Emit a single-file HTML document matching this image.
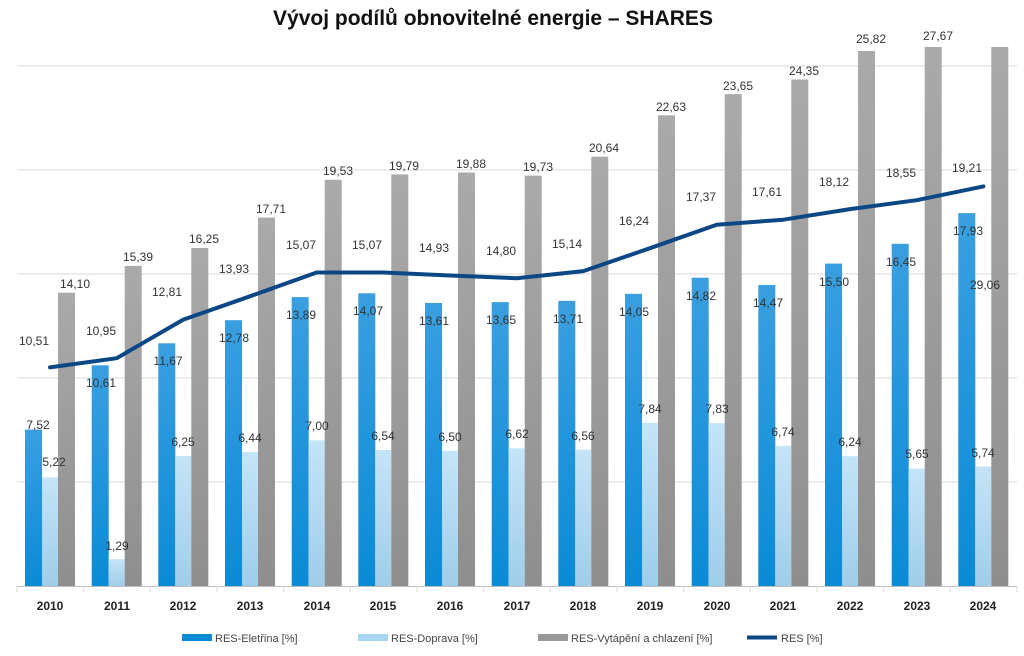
<!DOCTYPE html>
<html><head><meta charset="utf-8"><style>
body{margin:0;background:#fff}
svg{display:block;font-family:"Liberation Sans",sans-serif}
.l{font-size:12px;fill:#333;text-anchor:middle}
.y{font-size:12px;font-weight:bold;fill:#222;text-anchor:middle}
.g{font-size:11px;fill:#444}
</style></head><body>
<svg width="1024" height="656" viewBox="0 0 1024 656">
<defs>
<linearGradient id="b" x1="0" y1="0" x2="0" y2="1"><stop offset="0" stop-color="#3a9fe0"/><stop offset="1" stop-color="#0a8bd6"/></linearGradient>
<linearGradient id="lb" x1="0" y1="0" x2="0" y2="1"><stop offset="0" stop-color="#c4e4f8"/><stop offset="1" stop-color="#9fcdea"/></linearGradient>
<linearGradient id="gr" x1="0" y1="0" x2="0" y2="1"><stop offset="0" stop-color="#aaaaaa"/><stop offset="1" stop-color="#8e8e8e"/></linearGradient>
</defs>
<text x="493" y="25" style="font-size:21px;font-weight:bold;fill:#111" text-anchor="middle">Vývoj podílů obnovitelné energie – SHARES</text>
<g stroke="#d9d9d9" stroke-width="1">
<line x1="17" x2="1017" y1="66" y2="66"/><line x1="17" x2="1017" y1="170" y2="170"/><line x1="17" x2="1017" y1="274" y2="274"/><line x1="17" x2="1017" y1="378" y2="378"/><line x1="17" x2="1017" y1="482" y2="482"/>
<line x1="17" x2="1017" y1="586.5" y2="586.5" stroke="#bfbfbf"/>
<line x1="17" x2="17" y1="586" y2="592"/><line x1="83.7" x2="83.7" y1="586" y2="592"/><line x1="150.3" x2="150.3" y1="586" y2="592"/><line x1="217" x2="217" y1="586" y2="592"/><line x1="283.7" x2="283.7" y1="586" y2="592"/><line x1="350.3" x2="350.3" y1="586" y2="592"/><line x1="417" x2="417" y1="586" y2="592"/><line x1="483.7" x2="483.7" y1="586" y2="592"/><line x1="550.3" x2="550.3" y1="586" y2="592"/><line x1="617" x2="617" y1="586" y2="592"/><line x1="683.7" x2="683.7" y1="586" y2="592"/><line x1="750.3" x2="750.3" y1="586" y2="592"/><line x1="817" x2="817" y1="586" y2="592"/><line x1="883.7" x2="883.7" y1="586" y2="592"/><line x1="950.3" x2="950.3" y1="586" y2="592"/><line x1="1017" x2="1017" y1="586" y2="592"/>
</g>
<g fill="url(#b)">
<rect x="25" y="429.6" width="17" height="156.4"/><rect x="91.7" y="365.3" width="17" height="220.7"/><rect x="158.3" y="343.3" width="17" height="242.7"/><rect x="225" y="320.2" width="17" height="265.8"/><rect x="291.7" y="297.1" width="17" height="288.9"/><rect x="358.3" y="293.3" width="17" height="292.7"/><rect x="425" y="302.9" width="17" height="283.1"/><rect x="491.7" y="302.1" width="17" height="283.9"/><rect x="558.3" y="300.8" width="17" height="285.2"/><rect x="625" y="293.8" width="17" height="292.2"/><rect x="691.7" y="277.7" width="17" height="308.3"/><rect x="758.3" y="285" width="17" height="301"/><rect x="825" y="263.6" width="17" height="322.4"/><rect x="891.7" y="243.8" width="17" height="342.2"/><rect x="958.3" y="213.1" width="17" height="372.9"/>
</g>
<g fill="url(#lb)">
<rect x="42" y="477.4" width="16" height="108.6"/><rect x="108.7" y="559.2" width="16" height="26.8"/><rect x="175.3" y="456" width="16" height="130"/><rect x="242" y="452" width="16" height="134"/><rect x="308.7" y="440.4" width="16" height="145.6"/><rect x="375.3" y="450" width="16" height="136"/><rect x="442" y="450.8" width="16" height="135.2"/><rect x="508.7" y="448.3" width="16" height="137.7"/><rect x="575.3" y="449.6" width="16" height="136.4"/><rect x="642" y="422.9" width="16" height="163.1"/><rect x="708.7" y="423.1" width="16" height="162.9"/><rect x="775.3" y="445.8" width="16" height="140.2"/><rect x="842" y="456.2" width="16" height="129.8"/><rect x="908.7" y="468.5" width="16" height="117.5"/><rect x="975.3" y="466.6" width="16" height="119.4"/>
</g>
<g fill="url(#gr)">
<rect x="58" y="292.7" width="17" height="293.3"/><rect x="124.7" y="265.9" width="17" height="320.1"/><rect x="191.3" y="248" width="17" height="338"/><rect x="258" y="217.6" width="17" height="368.4"/><rect x="324.7" y="179.8" width="17" height="406.2"/><rect x="391.3" y="174.4" width="17" height="411.6"/><rect x="458" y="172.5" width="17" height="413.5"/><rect x="524.7" y="175.6" width="17" height="410.4"/><rect x="591.3" y="156.7" width="17" height="429.3"/><rect x="658" y="115.3" width="17" height="470.7"/><rect x="724.7" y="94.1" width="17" height="491.9"/><rect x="791.3" y="79.5" width="17" height="506.5"/><rect x="858" y="51" width="17" height="535"/><rect x="924.7" y="47" width="17" height="539"/><rect x="991.3" y="47" width="17" height="539"/>
</g>
<polyline fill="none" stroke="#0c4785" stroke-width="4" stroke-linejoin="round" stroke-linecap="round" points="50,367.4 116.7,358.2 183.3,319.6 250,296.3 316.7,272.5 383.3,272.5 450,275.5 516.7,278.2 583.3,271.1 650,248.2 716.7,224.7 783.3,219.7 850,209.1 916.7,200.2 983.3,186.4"/>
<g class="l">
<!-- gray labels -->
<text x="75" y="288">14,10</text><text x="138" y="261">15,39</text><text x="204" y="243">16,25</text><text x="271" y="213">17,71</text><text x="338" y="175">19,53</text><text x="404" y="170">19,79</text><text x="471" y="168">19,88</text><text x="538" y="171">19,73</text><text x="604" y="152">20,64</text><text x="671" y="111">22,63</text><text x="738" y="90">23,65</text><text x="804" y="75">24,35</text><text x="871" y="43">25,82</text><text x="938" y="40">27,67</text><text x="985" y="289">29,06</text>
<!-- blue labels -->
<text x="38" y="429">7,52</text><text x="101" y="387">10,61</text><text x="168" y="365">11,67</text><text x="234" y="342">12,78</text><text x="301" y="319">13,89</text><text x="368" y="315">14,07</text><text x="434" y="325">13,61</text><text x="501" y="324">13,65</text><text x="568" y="323">13,71</text><text x="634" y="316">14,05</text><text x="701" y="300">14,82</text><text x="768" y="307">14,47</text><text x="834" y="286">15,50</text><text x="901" y="266">16,45</text><text x="968" y="235">17,93</text>
<!-- light labels -->
<text x="54" y="466">5,22</text><text x="117" y="550">1,29</text><text x="183" y="446">6,25</text><text x="250" y="442">6,44</text><text x="317" y="430">7,00</text><text x="383" y="440">6,54</text><text x="450" y="441">6,50</text><text x="517" y="438">6,62</text><text x="583" y="440">6,56</text><text x="650" y="413">7,84</text><text x="717" y="413">7,83</text><text x="783" y="436">6,74</text><text x="850" y="446">6,24</text><text x="917" y="458">5,65</text><text x="983" y="457">5,74</text>
<!-- RES labels -->
<text x="34" y="345">10,51</text><text x="101" y="335">10,95</text><text x="167" y="296">12,81</text><text x="234" y="273">13,93</text><text x="301" y="249">15,07</text><text x="367" y="249">15,07</text><text x="434" y="252">14,93</text><text x="501" y="255">14,80</text><text x="567" y="248">15,14</text><text x="634" y="225">16,24</text><text x="701" y="201">17,37</text><text x="767" y="196">17,61</text><text x="834" y="186">18,12</text><text x="901" y="177">18,55</text><text x="967" y="172">19,21</text>
</g>
<g class="y">
<text x="50" y="610">2010</text><text x="117" y="610">2011</text><text x="183" y="610">2012</text><text x="250" y="610">2013</text><text x="317" y="610">2014</text><text x="383" y="610">2015</text><text x="450" y="610">2016</text><text x="517" y="610">2017</text><text x="583" y="610">2018</text><text x="650" y="610">2019</text><text x="717" y="610">2020</text><text x="783" y="610">2021</text><text x="850" y="610">2022</text><text x="917" y="610">2023</text><text x="983" y="610">2024</text>
</g>
<rect x="182" y="634" width="30" height="7" fill="#0a8bd6"/><text class="g" x="215" y="642">RES-Eletřina [%]</text>
<rect x="358" y="634" width="30" height="7" fill="#a8d4f0"/><text class="g" x="391" y="642">RES-Doprava [%]</text>
<rect x="538" y="634" width="30" height="7" fill="#999"/><text class="g" x="571" y="642">RES-Vytápění a chlazení [%]</text>
<line x1="747" x2="777" y1="637.5" y2="637.5" stroke="#0c4785" stroke-width="4"/><text class="g" x="781" y="642">RES [%]</text>
</svg>
</body></html>
